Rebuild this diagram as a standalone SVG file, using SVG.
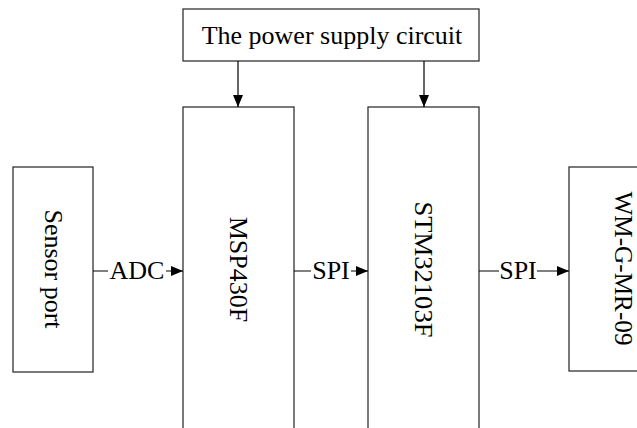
<svg xmlns="http://www.w3.org/2000/svg" width="637" height="428" viewBox="0 0 637 428">
<style>
.box{fill:#fff;stroke:#333;stroke-width:1.3}
.t{font-family:"Liberation Serif","Times New Roman",serif;font-size:26px;fill:#000}
.c{stroke:#000;stroke-width:1.2;fill:none}
.lb{fill:#fff;stroke:none}
</style>
<defs>
<marker id="ah" markerWidth="12" markerHeight="10" refX="12" refY="5" orient="auto" markerUnits="userSpaceOnUse">
<path d="M0,0 L12,5 L0,10 Z" fill="#000"/>
</marker>
</defs>
<rect width="637" height="428" fill="#fff"/>
<g id="power">
<rect class="box" x="183" y="9" width="296" height="52"/>
<text class="t" x="332" y="44" text-anchor="middle">The power supply circuit</text>
</g>
<g id="sensor">
<rect class="box" x="13" y="167" width="80" height="205"/>
<text class="t" transform="translate(53,269) rotate(90)" text-anchor="middle" dominant-baseline="central">Sensor port</text>
</g>
<g id="msp">
<rect class="box" x="183" y="107" width="111" height="330"/>
<text class="t" transform="translate(238.5,269.5) rotate(90)" text-anchor="middle" dominant-baseline="central">MSP430F</text>
</g>
<g id="stm">
<rect class="box" x="368" y="107" width="111" height="330"/>
<text class="t" transform="translate(423.5,269.5) rotate(90)" text-anchor="middle" dominant-baseline="central" textLength="136" lengthAdjust="spacingAndGlyphs">STM32103F</text>
</g>
<g id="wm">
<rect class="box" x="569" y="167" width="108" height="204"/>
<text class="t" transform="translate(623,268.5) rotate(90)" text-anchor="middle" dominant-baseline="central" textLength="154" lengthAdjust="spacingAndGlyphs">WM-G-MR-09</text>
</g>
<g id="connectors">
<line class="c" x1="238" y1="61" x2="238" y2="107" marker-end="url(#ah)"/>
<line class="c" x1="424" y1="61" x2="424" y2="107" marker-end="url(#ah)"/>
<line class="c" x1="93" y1="271" x2="183" y2="271" marker-end="url(#ah)"/>
<rect class="lb" x="108" y="258" width="58" height="24"/>
<text class="t" x="137" y="279" text-anchor="middle">ADC</text>
<line class="c" x1="294" y1="271" x2="368" y2="271" marker-end="url(#ah)"/>
<rect class="lb" x="311" y="258" width="40" height="24"/>
<text class="t" x="331" y="279" text-anchor="middle">SPI</text>
<line class="c" x1="479" y1="271" x2="569" y2="271" marker-end="url(#ah)"/>
<rect class="lb" x="499" y="258" width="38" height="24"/>
<text class="t" x="518" y="279" text-anchor="middle">SPI</text>
</g>
</svg>
